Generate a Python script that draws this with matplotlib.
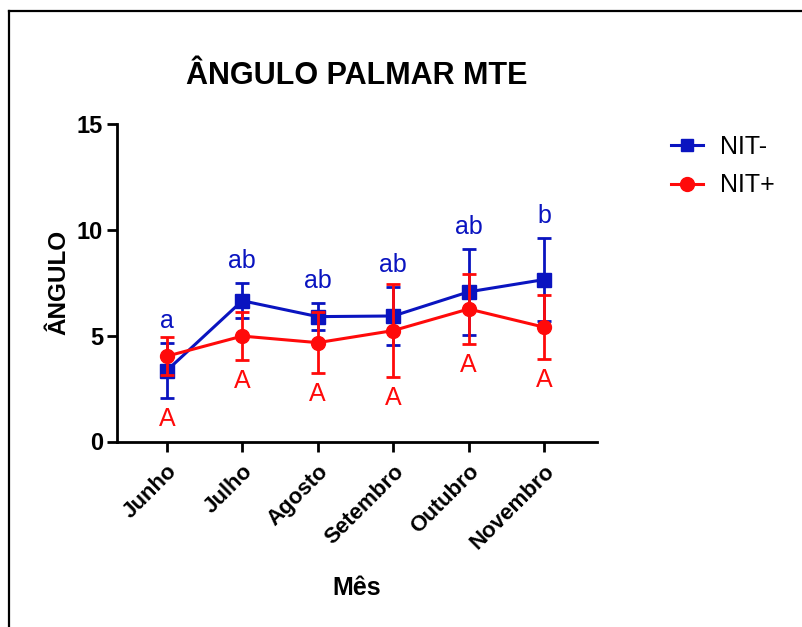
import numpy as np
import matplotlib
matplotlib.use("Agg")
import matplotlib.pyplot as plt
from matplotlib.lines import Line2D

plt.rcParams['font.family'] = ['Liberation Sans', 'DejaVu Sans']

meses = ["Junho", "Julho", "Agosto", "Setembro", "Outubro", "Novembro"]

# NIT- group: mean and standard deviation per month
nit_neg_mean = [3.35, 6.65, 5.90, 5.93, 7.07, 7.65]
nit_neg_sd = [1.31, 0.83, 0.64, 1.35, 2.03, 1.97]
nit_neg_letras = ["a", "ab", "ab", "ab", "ab", "b"]

# NIT+ group
nit_pos_mean = [4.03, 4.98, 4.67, 5.24, 6.26, 5.40]
nit_pos_sd = [0.89, 1.12, 1.43, 2.18, 1.65, 1.52]
nit_pos_letras = ["A", "A", "A", "A", "A", "A"]

azul = "#0a14c0"
vermelho = "#ff0a0a"

fig = plt.figure(figsize=(8.02, 6.27), dpi=100)
W, H = 802, 627
ax = fig.add_axes([117 / W, (H - 441.5) / H, (597 - 117) / W, (441.5 - 124) / H])

x = np.arange(len(meses))
neg_m = np.array(nit_neg_mean)
neg_s = np.array(nit_neg_sd)
pos_m = np.array(nit_pos_mean)
pos_s = np.array(nit_pos_sd)

ax.errorbar(x, neg_m, yerr=neg_s, color=azul, marker="s", markersize=9.5,
            linewidth=2.2, elinewidth=2.0, capsize=5, capthick=2.0, zorder=3)
ax.errorbar(x, pos_m, yerr=pos_s, color=vermelho, marker="o", markersize=10,
            linewidth=2.2, elinewidth=2.0, capsize=5, capthick=2.0, zorder=4)

# significance letters
for i in range(len(meses)):
    ax.annotate(nit_neg_letras[i], (x[i], neg_m[i] + neg_s[i]), xytext=(0, 11),
                textcoords="offset points", ha="center", va="baseline",
                color=azul, fontsize=18)
    low = min(neg_m[i] - neg_s[i], pos_m[i] - pos_s[i])
    ax.annotate(nit_pos_letras[i], (x[i], low), xytext=(0, -15),
                textcoords="offset points", ha="center", va="center",
                color=vermelho, fontsize=18)

ax.set_xlim(-0.66, 5.7)
ax.set_ylim(0, 15)
ax.set_yticks([0, 5, 10, 15])
ax.set_xticks(x)
ax.set_xticklabels(meses, rotation=45, ha="right", rotation_mode="anchor",
                   fontsize=16, fontweight="bold")
for lab in ax.get_yticklabels():
    lab.set_fontweight("bold")
ax.tick_params(axis="y", labelsize=17, length=7, width=2, pad=3)
ax.tick_params(axis="x", length=7, width=2, pad=7)

for s in ["top", "right"]:
    ax.spines[s].set_visible(False)
for s in ["left", "bottom"]:
    ax.spines[s].set_linewidth(2)

ax.set_ylabel("ÂNGULO", fontsize=17.5, fontweight="bold", labelpad=5)
ax.set_xlabel("Mês", fontsize=18, fontweight="bold", labelpad=16)
ax.set_title("ÂNGULO PALMAR MTE", fontsize=22, fontweight="bold", pad=29)

handles = [
    Line2D([], [], color=azul, marker="s", markersize=9, linewidth=2.2),
    Line2D([], [], color=vermelho, marker="o", markersize=10, linewidth=2.2),
]
fig.legend(handles, ["NIT-", "NIT+"], loc="upper left",
           bbox_to_anchor=(648 / W, 1 - 112 / H), frameon=False,
           fontsize=18, handlelength=1.3, labelspacing=0.6, handletextpad=0.7)

# outer frame
fig.add_artist(Line2D([9 / W, 9 / W], [0, 1 - 11 / H], color="black", linewidth=1.6))
fig.add_artist(Line2D([9 / W, 1], [1 - 11 / H, 1 - 11 / H], color="black", linewidth=1.6))

fig.savefig("out.png", dpi=100)
